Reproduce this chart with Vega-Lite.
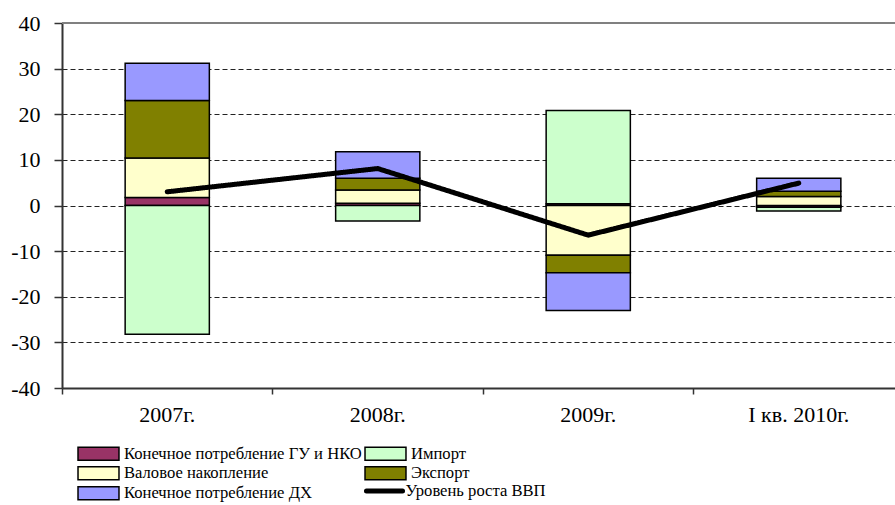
{
  "$schema": "https://vega.github.io/schema/vega-lite/v6.json",
  "width": 833,
  "height": 365,
  "autosize": {"type": "none"},
  "padding": {"left": 62, "top": 23, "right": 0, "bottom": 117},
  "background": "white",
  "config": {
    "view": {"stroke": null},
    "font": "Liberation Serif",
    "axis": {"labelFont": "Liberation Serif", "labelColor": "black"},
    "legend": {"labelFont": "Liberation Serif", "labelColor": "black"}
  },
  "datasets": {
    "bars": [
      {"period": "2007г.", "component": "Конечное потребление ГУ и НКО", "k": 1, "value": 1.75},
      {"period": "2007г.", "component": "Валовое накопление", "k": 2, "value": 8.65},
      {"period": "2007г.", "component": "Экспорт", "k": 3, "value": 12.6},
      {"period": "2007г.", "component": "Конечное потребление ДХ", "k": 4, "value": 8.2},
      {"period": "2007г.", "component": "Импорт", "k": 5, "value": -28.2},
      {"period": "2008г.", "component": "Конечное потребление ГУ и НКО", "k": 1, "value": 0.5},
      {"period": "2008г.", "component": "Валовое накопление", "k": 2, "value": 2.9},
      {"period": "2008г.", "component": "Экспорт", "k": 3, "value": 2.6},
      {"period": "2008г.", "component": "Конечное потребление ДХ", "k": 4, "value": 5.8},
      {"period": "2008г.", "component": "Импорт", "k": 5, "value": -3.4},
      {"period": "2009г.", "component": "Конечное потребление ГУ и НКО", "k": 1, "value": 0.4},
      {"period": "2009г.", "component": "Валовое накопление", "k": 2, "value": -10.9},
      {"period": "2009г.", "component": "Экспорт", "k": 3, "value": -3.85},
      {"period": "2009г.", "component": "Конечное потребление ДХ", "k": 4, "value": -8.25},
      {"period": "2009г.", "component": "Импорт", "k": 5, "value": 20.4},
      {"period": "I кв. 2010г.", "component": "Конечное потребление ГУ и НКО", "k": 1, "value": -0.4},
      {"period": "I кв. 2010г.", "component": "Валовое накопление", "k": 2, "value": 2.0},
      {"period": "I кв. 2010г.", "component": "Экспорт", "k": 3, "value": 1.1},
      {"period": "I кв. 2010г.", "component": "Конечное потребление ДХ", "k": 4, "value": 2.9},
      {"period": "I кв. 2010г.", "component": "Импорт", "k": 5, "value": -0.8}
    ],
    "gdp": [
      {"period": "2007г.", "value": 3.0},
      {"period": "2008г.", "value": 8.1},
      {"period": "2009г.", "value": -6.5},
      {"period": "I кв. 2010г.", "value": 4.9}
    ],
    "border": [{"v": 40}]
  },
  "layer": [
    {
      "data": {"name": "bars"},
      "mark": {"type": "bar", "stroke": "black", "strokeWidth": 1.5},
      "encoding": {
        "x": {
          "field": "period", "type": "nominal",
          "sort": ["2007г.", "2008г.", "2009г.", "I кв. 2010г."],
          "scale": {"range": [0, 842], "paddingInner": 0.6, "paddingOuter": 0.3},
          "axis": {
            "title": null, "labelAngle": 0, "bandPosition": -0.75, "grid": false,
            "tickSize": 6, "tickColor": "#333", "tickWidth": 1.5,
            "domainColor": "#333", "domainWidth": 2,
            "labelFont": "Liberation Serif", "labelFontSize": 22, "labelColor": "black", "labelPadding": 10
          }
        },
        "y": {
          "field": "value", "type": "quantitative", "stack": "zero",
          "scale": {"domain": [-40, 40], "nice": false, "zero": false},
          "axis": {
            "title": null, "values": [-40, -30, -20, -10, 0, 10, 20, 30, 40],
            "labelExpr": "replace(datum.label, '−', '-')",
            "grid": true, "gridColor": "#222", "gridDash": [5, 3], "gridWidth": 1,
            "domainColor": "#333", "domainWidth": 2,
            "tickColor": "#333", "tickSize": 8, "tickWidth": 1.5,
            "labelFont": "Liberation Serif", "labelFontSize": 22, "labelColor": "black", "labelPadding": 14
          }
        },
        "color": {
          "field": "component", "type": "nominal",
          "scale": {
            "domain": ["Конечное потребление ГУ и НКО", "Валовое накопление", "Конечное потребление ДХ", "Импорт", "Экспорт"],
            "range": ["#993366", "#FFFFCC", "#9999FF", "#CCFFCC", "#808000"]
          },
          "legend": {
            "orient": "none", "legendX": 27, "legendY": 420.75, "columns": 2, "title": null, "padding": 0,
            "labelFont": "Liberation Serif", "labelFontSize": 16.6, "labelColor": "black", "labelLimit": 400,
            "symbolSize": 289, "symbolType": "M-2.41,-0.765L2.41,-0.765L2.41,0.765L-2.41,0.765Z",
            "symbolStrokeWidth": 1.5, "symbolStrokeColor": "black", "symbolOpacity": 1,
            "labelOffset": 16, "columnPadding": 0, "rowPadding": -1,
            "encode": {
              "symbols": {"update": {"stroke": {"value": "black"}, "strokeWidth": {"value": 1.5}}}
            }
          }
        },
        "order": {"field": "k", "type": "quantitative"}
      }
    },
    {
      "data": {"name": "border"},
      "mark": {"type": "rule", "color": "#808080", "strokeWidth": 2},
      "encoding": {"y": {"field": "v", "type": "quantitative"}}
    },
    {
      "data": {"name": "gdp"},
      "mark": {"type": "line", "strokeWidth": 5, "strokeCap": "round", "color": "black"},
      "encoding": {
        "x": {"field": "period", "type": "nominal", "sort": ["2007г.", "2008г.", "2009г.", "I кв. 2010г."]},
        "y": {"field": "value", "type": "quantitative"},
        "strokeDash": {
          "datum": "Уровень роста ВВП", "type": "nominal",
          "scale": {"range": [[1, 0]]},
          "legend": {
            "orient": "none", "legendX": 311.5, "legendY": 457, "title": null, "padding": 0,
            "labelFont": "Liberation Serif", "labelFontSize": 16.6, "labelColor": "black", "labelLimit": 400,
            "symbolType": "M-2.12,0L2.12,0", "symbolSize": 289, "symbolStrokeWidth": 5, "symbolStrokeColor": "black",
            "symbolDash": [1, 0], "labelOffset": 10,
            "encode": {
              "symbols": {"update": {"strokeCap": {"value": "round"}, "stroke": {"value": "black"}, "strokeWidth": {"value": 5}}}
            }
          }
        }
      }
    }
  ]
}
